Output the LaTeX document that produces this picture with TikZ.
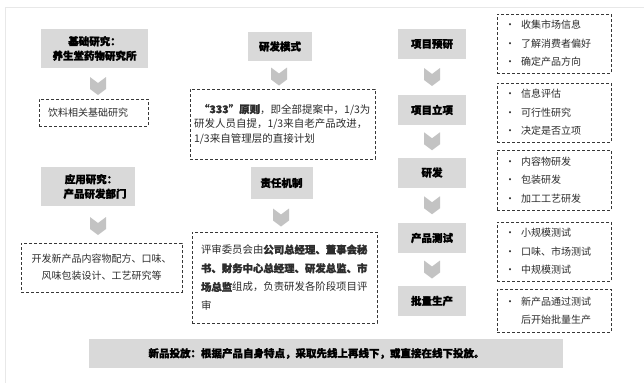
\documentclass[tikz,border=0pt]{standalone}
\usepackage{fontspec}
\setmainfont{Noto Sans CJK SC}[BoldFeatures={FakeBold=1.5}]
\usetikzlibrary{calc}
\definecolor{boxgray}{RGB}{217,217,217}
\definecolor{chevgray}{RGB}{195,195,195}
\definecolor{dashcol}{RGB}{55,55,55}
\definecolor{txtcol}{RGB}{45,45,45}
\definecolor{framegray}{RGB}{232,232,232}
\newcommand\blt{\makebox[16pt][l]{•}}
\begin{document}
\begin{tikzpicture}[x=1pt,y=-1pt,
  gbox/.style={fill=boxgray, inner sep=0pt, align=center, text=black,
    font=\fontsize{10.5}{14.5}\selectfont\bfseries},
  dbox/.style={draw=dashcol, dash pattern=on 3pt off 2pt, line width=0.7pt,
    inner sep=0pt, text=txtcol},
  chevron/.pic={\fill[chevgray] (-8,-9) -- (0,-3) -- (8,-9) -- (8,3) -- (0,9) -- (-8,3) -- cycle;}
]
\useasboundingbox (0,0) rectangle (644,383);
\fill[white] (0,0) rectangle (644,383);
\draw[framegray, line width=0.6pt] (5.5,383) -- (5.5,7.5) -- (644,7.5);

% left column
\node[gbox, minimum width=107pt, minimum height=39pt] (l1) at (94.5,48.5) {基础研究：\\养生堂药物研究所};
\node[dbox, minimum width=109pt, minimum height=27pt, text width=91pt, align=left,
  font=\fontsize{10}{14}\selectfont] (l1d) at (93.5,112.5) {饮料相关基础研究};
\node[gbox, minimum width=94pt, minimum height=39pt] (l2) at (88,186.5) {\hspace*{6pt}应用研究：\\\hspace*{14pt}产品研发部门};
\node[dbox, minimum width=161pt, minimum height=49pt, align=center,
  font=\fontsize{10}{17}\selectfont] (l2d) at (101.5,267.5) {开发新产品内容物配方、口味、\\风味包装设计、工艺研究等};
\pic at (98,86) {chevron};
\pic at (98,226) {chevron};

% middle column
\node[gbox, minimum width=64pt, minimum height=29pt] (m1) at (280,46.5) {研发模式};
\node[dbox, minimum width=185pt, minimum height=70pt, text width=177pt, align=left,
  font=\fontsize{10.5}{14.5}\selectfont] (m1d) at (282.5,124) {\hspace*{5pt}{\bfseries “333”原则}，即全部提案中，1/3为\\研发人员自提，1/3来自老产品改进，\\1/3来自管理层的直接计划};
\node[gbox, minimum width=62pt, minimum height=32pt] (m2) at (281.5,183) {责任机制};
\node[dbox, minimum width=185pt, minimum height=91pt, text width=167pt, align=left,
  font=\fontsize{10.4}{18.7}\selectfont] (m2d) at (284.5,277.5) {评审委员会由{\bfseries 公司总经理、董事会秘}\\{\bfseries 书、财务中心总经理、研发总监、市}\\{\bfseries 场总监}组成，负责研发各阶段项目评\\审};
\pic at (279,76.5) {chevron};
\pic at (281,217.5) {chevron};

% right column
\node[gbox, minimum width=68pt, minimum height=30pt] (r1) at (432,44) {项目预研};
\node[gbox, minimum width=68pt, minimum height=30pt] (r2) at (432,110) {项目立项};
\node[gbox, minimum width=68pt, minimum height=30pt] (r3) at (432,172.5) {研发};
\node[gbox, minimum width=68pt, minimum height=30pt] (r4) at (432,238) {产品测试};
\node[gbox, minimum width=68pt, minimum height=30pt] (r5) at (432,301) {批量生产};
\pic at ($(r1.south)!0.5!(r2.north)$) {chevron};
\pic at ($(r2.south)!0.5!(r3.north)$) {chevron};
\pic at ($(r3.south)!0.5!(r4.north)$) {chevron};
\pic at ($(r4.south)!0.5!(r5.north)$) {chevron};

\tikzset{rbox/.style={dbox, minimum width=114pt, text width=98pt, align=left,
  font=\fontsize{10}{18.5}\selectfont}}
\node[rbox, minimum height=59pt] (d1) at (554,43.5) {\blt 收集市场信息\\\blt 了解消费者偏好\\\blt 确定产品方向};
\node[rbox, minimum height=59pt] (d2) at (554,112.5) {\blt 信息评估\\\blt 可行性研究\\\blt 决定是否立项};
\node[rbox, minimum height=60pt] (d3) at (554,180) {\blt 内容物研发\\\blt 包装研发\\\blt 加工工艺研发};
\node[rbox, minimum height=59pt] (d4) at (554,251.5) {\blt 小规模测试\\\blt 口味、市场测试\\\blt 中规模测试};
\node[rbox, minimum height=43pt, font=\fontsize{10}{17.5}\selectfont] (d5) at (554,310.5) {\blt 新产品通过测试\\\makebox[16pt]{}后开始批量生产};

% bottom bar
\node[gbox, minimum width=474pt, minimum height=29pt] (bar) at (326,353.5) {新品投放：根据产品自身特点，采取先线上再线下，或直接在线下投放。\hspace*{19pt}};
\end{tikzpicture}
\end{document}
